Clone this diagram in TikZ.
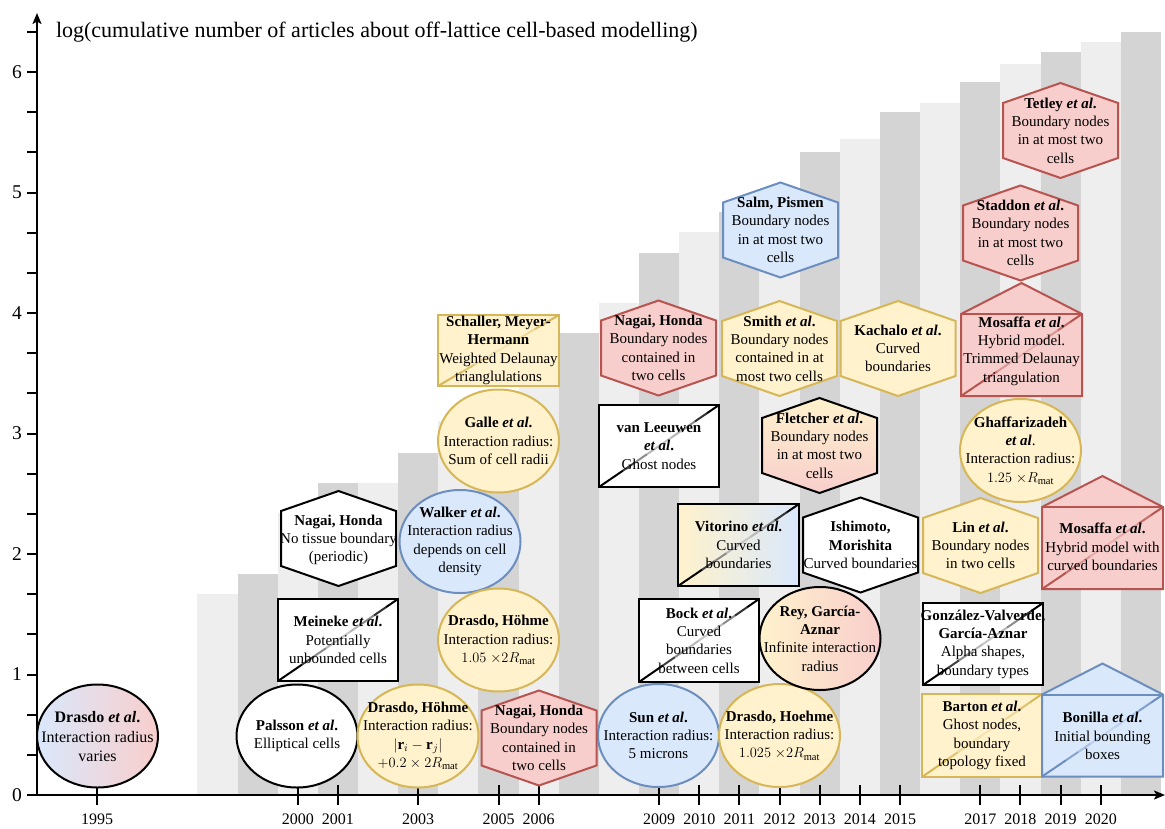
\documentclass[tikz,border=0pt]{standalone}
\usepackage{fontspec}
\setmainfont{Liberation Serif}
\usetikzlibrary{shapes.geometric,arrows.meta}
\definecolor{yfill}{HTML}{FFF2CC}
\definecolor{ydraw}{HTML}{D6B656}
\definecolor{bfill}{HTML}{DAE8FC}
\definecolor{bdraw}{HTML}{6C8EBF}
\definecolor{rfill}{HTML}{F8CECC}
\definecolor{rdraw}{HTML}{B85450}
\definecolor{barL}{HTML}{EEEEEE}
\definecolor{barD}{HTML}{D4D4D4}

% faded diagonal: x0,y0,x1,y1,line colour,background colour
\newcommand\fadediag[6]{%
  \foreach \i/\p in {0/100,1/100,2/75,3/45,4/28,5/22,6/28,7/45,8/80,9/100}{%
    \draw[#5!\p!#6, line cap=butt] ({#1+((#3)-(#1))*\i/10},{#2+((#4)-(#2))*\i/10}) -- ({#1+((#3)-(#1))*(\i+1)/10},{#2+((#4)-(#2))*(\i+1)/10});}}
% hexagon: cx, cy, style
\newcommand\hexat[3]{%
  \path[#3] ({#1},{#2-47.5}) -- ({#1+57.5},{#2-27.5}) -- ({#1+57.5},{#2+27.5}) -- ({#1},{#2+47.5}) -- ({#1-57.5},{#2+27.5}) -- ({#1-57.5},{#2-27.5}) -- cycle;}
% box with diagonal: name, cx, cy, w, h, style, line colour, background colour
\newcommand\diagbox[8]{%
  \node[rectangle, inner sep=0pt, minimum width=#4pt, minimum height=#5pt, #6] (#1) at (#2,#3) {};
  \fadediag{#2-#4/2}{#3+#5/2}{#2+#4/2}{#3-#5/2}{#7}{#8}}
% house: cx, cy (centre of box part), style, line colour, background colour
\newcommand\houseat[5]{%
  \path[#3] ({#1-60.5},{#2+41}) -- ({#1-60.5},{#2-41}) -- ({#1},{#2-72}) -- ({#1+60.5},{#2-41}) -- ({#1+60.5},{#2+41}) -- cycle;
  \draw[#4] ({#1-60.5},{#2-41}) -- ({#1+60.5},{#2-41});
  \fadediag{#1-60.5}{#2+41}{#1+60.5}{#2-41}{#4}{#5}}

\begin{document}
\begin{tikzpicture}[x=1pt,y=-1pt,line width=2pt,
  txt/.style={align=center,inner sep=0pt,font=\fontsize{15}{18.3}\selectfont},
  ell/.style={ellipse,inner sep=0pt,minimum width=121pt,minimum height=103pt},
  ys/.style={fill=yfill,draw=ydraw},
  bs/.style={fill=bfill,draw=bdraw},
  rs/.style={fill=rfill,draw=rdraw},
  ws/.style={fill=white,draw=black},
  yrlab/.style={font=\fontsize{16}{19}\selectfont,inner sep=0pt},
  vlab/.style={font=\fontsize{19.5}{23}\selectfont,inner sep=0pt,anchor=east},
  ax/.style={line width=2pt,-{Stealth[length=11pt,width=9pt,inset=2.5pt]}}]
\useasboundingbox (0,0) rectangle (1165,828);

% bars
\foreach \yr/\v/\c in {1998/1.67/barL,1999/1.83/barD,2000/2.34/barL,2001/2.59/barD,2002/2.59/barL,2003/2.84/barD,2004/3.1/barL,2005/3.35/barD,2006/3.6/barL,2007/3.83/barD,2008/4.08/barL,2009/4.5/barD,2010/4.67/barL,2011/4.84/barD,2012/4.95/barL,2013/5.34/barD,2014/5.44/barL,2015/5.67/barD,2016/5.74/barL,2017/5.92/barD,2018/6.07/barL,2019/6.17/barD,2020/6.25/barL,2021/6.33/barD}{
  \fill[\c] ({97+(\yr-1995)*40.15-20.075},795) rectangle ({97+(\yr-1995)*40.15+20.075},{795-\v*120.5});}

% axes
\coordinate (O) at (37,795);
\coordinate (yend) at (37,13);
\coordinate (xend) at (1165,795);
\draw[ax] (O) -- (yend);
\draw[ax] (O) -- (xend);
\foreach \k in {0,...,19} \draw (27,{795-\k*40.1667}) -- (37,{795-\k*40.1667});
\foreach \k in {0,...,6} \node[vlab] (yl\k) at (23,{795-\k*120.5}) {\k};
\foreach \yr in {1995,2000,2001,2003,2005,2006,2009,2010,2011,2012,2013,2014,2015,2017,2018,2019,2020}{
  \draw ({97+(\yr-1995)*40.15},785) -- ({97+(\yr-1995)*40.15},805);
  \node[yrlab] (x\yr) at ({97+(\yr-1995)*40.15},819.5) {\yr};}
\node[anchor=base west,inner sep=0pt,font=\fontsize{22}{26}\selectfont] (title) at (55,37) {log(cumulative number of articles about off-lattice cell-based modelling)};

% ---- ellipses
\node[ell,left color=bfill,right color=rfill,draw=black] (drasdo95S) at (97.5,736) {};
\node[txt,font=\fontsize{16}{19.5}\selectfont] (drasdo95) at (97.5,737) {\textbf{Drasdo \textit{et al}.}\\Interaction radius\\varies};
\node[ell,ws] (palssonS) at (297,736) {};
\node[txt] (palsson) at (297,736) {\textbf{Palsson \textit{et al}.}\\Elliptical cells};
\node[ell,ys] (drasdo03S) at (418,736) {};
\node[txt] (drasdo03) at (418,736) {\textbf{Drasdo, Höhme}\\Interaction radius:\\$|\mathbf{r}_i-\mathbf{r}_j|$\\$+0.2\times 2R_{\mathrm{mat}}$};
\node[ell,bs] (walkerS) at (460,541.5) {};
\node[txt] (walker) at (460,541.5) {\textbf{Walker \textit{et al}.}\\Interaction radius\\depends on cell\\density};
\node[ell,ys] (galleS) at (498.5,441) {};
\node[txt] (galle) at (498.5,441) {\textbf{Galle \textit{et al}.}\\Interaction radius:\\Sum of cell radii};
\node[ell,ys] (drasdo05S) at (498.5,640) {};
\node[txt] (drasdo05) at (498.5,640) {\textbf{Drasdo, Höhme}\\Interaction radius:\\$1.05$ $\times 2R_{\mathrm{mat}}$};
\node[ell,bs] (sunS) at (658.5,735.5) {};
\node[txt] (sun) at (658.5,735.5) {\textbf{Sun \textit{et al}.}\\Interaction radius:\\5 microns};
\node[ell,ys] (drasdo12S) at (779.5,735.5) {};
\node[txt] (drasdo12) at (779.5,735.5) {\textbf{Drasdo, Hoehme}\\Interaction radius:\\$1.025$ $\times 2R_{\mathrm{mat}}$};
\node[ell,left color=yfill,right color=rfill,draw=black] (reyS) at (820,638.5) {};
\node[txt] (rey) at (820,638.5) {\textbf{Rey, García-}\\\textbf{Aznar}\\Infinite interaction\\radius};
\node[ell,ys] (ghaffS) at (1020.5,450.5) {};
\node[txt] (ghaff) at (1020.5,450.5) {\textbf{Ghaffarizadeh}\\\textbf{\textit{et al}}.\\Interaction radius:\\$1.25$ $\times R_{\mathrm{mat}}$};

% ---- hexagons
\hexat{338.5}{538.5}{ws}
\node[txt] (nagaiA) at (338.5,540) {\textbf{Nagai, Honda}\\No tissue boundary\\(periodic)};
\hexat{539}{738}{rs}
\node[txt] (nagaiB) at (539,738) {\textbf{Nagai, Honda}\\Boundary nodes\\contained in\\two cells};
\hexat{658.5}{348}{rs}
\node[txt] (nagaiC) at (658.5,348) {\textbf{Nagai, Honda}\\Boundary nodes\\contained in\\two cells};
\hexat{779.5}{348.5}{ys}
\node[txt] (smith) at (779.5,348.5) {\textbf{Smith \textit{et al}.}\\Boundary nodes\\contained in at\\most two cells};
\hexat{898}{348.5}{ys}
\node[txt] (kachalo) at (898,348.5) {\textbf{Kachalo \textit{et al}.}\\Curved\\boundaries};
\hexat{819.5}{445.5}{top color=yfill,bottom color=rfill,draw=black}
\node[txt] (fletcher) at (819.5,445.5) {\textbf{Fletcher \textit{et al}.}\\Boundary nodes\\in at most two\\cells};
\hexat{860.5}{545}{ws}
\node[txt] (ishimoto) at (860.5,545) {\textbf{Ishimoto,}\\\textbf{Morishita}\\Curved boundaries};
\hexat{780.5}{230}{bs}
\node[txt] (salm) at (780.5,230) {\textbf{Salm, Pismen}\\Boundary nodes\\in at most two\\cells};
\hexat{980.5}{545.5}{ys}
\node[txt] (lin) at (980.5,545.5) {\textbf{Lin \textit{et al}.}\\Boundary nodes\\in two cells};
\hexat{1020.5}{233}{rs}
\node[txt] (staddon) at (1020.5,233) {\textbf{Staddon \textit{et al}.}\\Boundary nodes\\in at most two\\cells};
\hexat{1060.5}{130.5}{rs}
\node[txt] (tetley) at (1060.5,130.5) {\textbf{Tetley \textit{et al}.}\\Boundary nodes\\in at most two\\cells};

% ---- boxes with diagonal
\diagbox{meinekeS}{338}{640}{120}{82}{ws}{black}{white}
\node[txt] (meineke) at (338,640) {\textbf{Meineke \textit{et al}.}\\Potentially\\unbounded cells};
\diagbox{schallerS}{498.5}{350.5}{121}{71}{ys}{ydraw}{yfill}
\node[txt] (schaller) at (498.5,350.5) {\textbf{Schaller, Meyer-}\\\textbf{Hermann}\\Weighted Delaunay\\trianglulations};
\diagbox{leeuwenS}{659}{446}{120}{82}{ws}{black}{white}
\node[txt] (leeuwen) at (659,446) {\textbf{van Leeuwen}\\\textbf{\textit{et al}.}\\Ghost nodes};
\diagbox{vitorinoS}{738.5}{545}{121}{82}{left color=yfill,right color=bfill,draw=black}{black}{white}
\node[txt] (vitorino) at (738.5,545) {\textbf{Vitorino \textit{et al}.}\\Curved\\boundaries};
\diagbox{bockS}{699}{640.5}{120}{83}{ws}{black}{white}
\node[txt] (bock) at (699,640.5) {\textbf{Bock \textit{et al}.}\\Curved\\boundaries\\between cells};
\diagbox{gonzalezS}{983}{644}{120}{82}{ws}{black}{white}
\node[txt] (gonzalez) at (983,644) {\textbf{González-Valverde,}\\\textbf{García-Aznar}\\Alpha shapes,\\boundary types};
\diagbox{bartonS}{982}{735.5}{120}{83}{ys}{ydraw}{yfill}
\node[txt] (barton) at (982,735.5) {\textbf{Barton \textit{et al}.}\\Ghost nodes,\\boundary\\topology fixed};

% ---- houses
\houseat{1021.5}{355}{rs}{rdraw}{rfill}
\node[txt] (mosaffaA) at (1021.5,351) {\textbf{Mosaffa \textit{et al}.}\\Hybrid model.\\Trimmed Delaunay\\triangulation};
\houseat{1102.5}{548}{rs}{rdraw}{rfill}
\node[txt] (mosaffaB) at (1102.5,547) {\textbf{Mosaffa \textit{et al}.}\\Hybrid model with\\curved boundaries};
\houseat{1102.5}{735.5}{bs}{bdraw}{bfill}
\node[txt] (bonilla) at (1102.5,736) {\textbf{Bonilla \textit{et al}.}\\Initial bounding\\boxes};
\end{tikzpicture}
\end{document}
